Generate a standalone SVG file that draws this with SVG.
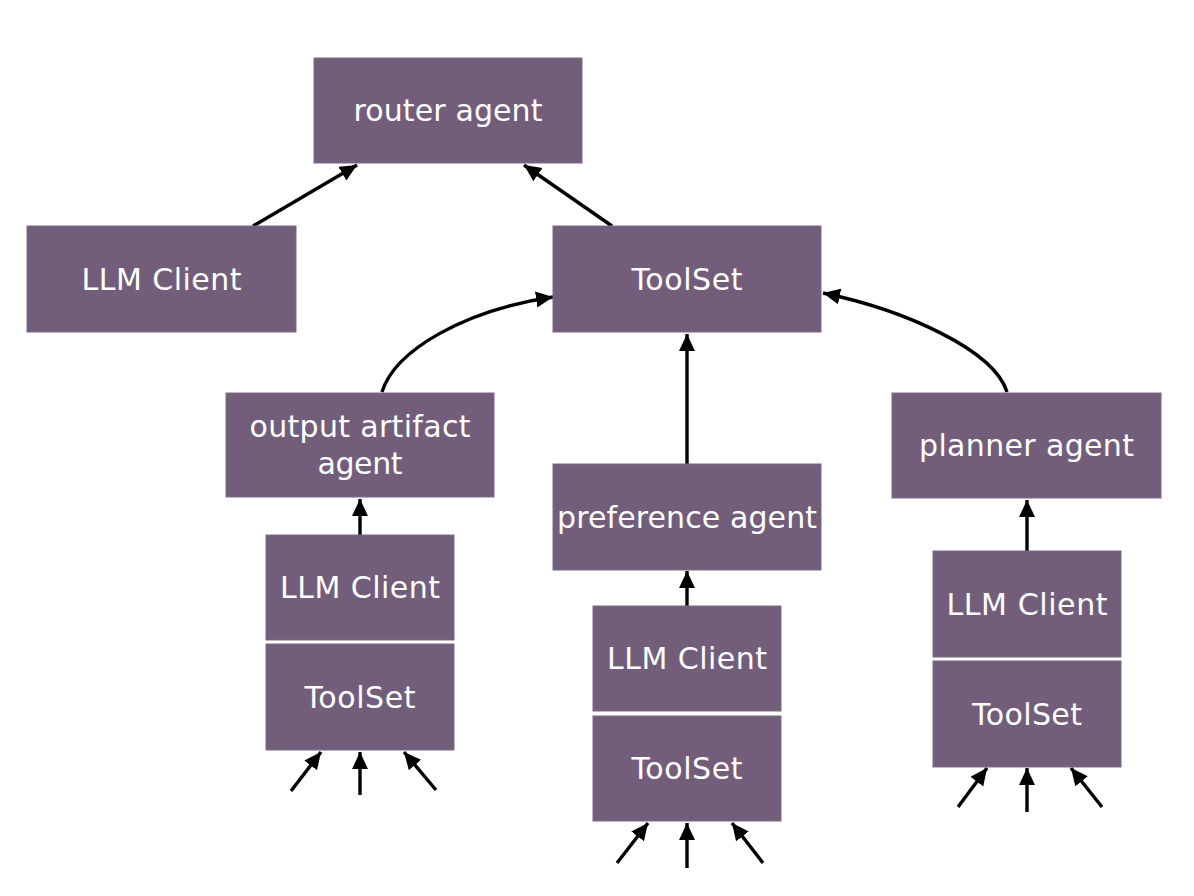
<svg xmlns="http://www.w3.org/2000/svg" width="1194" height="896" viewBox="0 0 1194 896">
<style>
.box{fill:#725e7a;stroke:#7d6a85;stroke-width:1}
.lbl{font-family:"DejaVu Sans","Liberation Sans",sans-serif;font-size:30px;fill:#ffffff;text-anchor:middle}
.edge{fill:none;stroke:#000;stroke-width:3.4;marker-end:url(#ah)}
</style>
<defs>
<marker id="ah" markerUnits="userSpaceOnUse" markerWidth="18" markerHeight="17" refX="17" refY="8" orient="auto">
<path d="M0,0 L17,8 L0,16 z" fill="#000"/>
</marker>
</defs>
<rect width="1194" height="896" fill="#fff"/>
<g id="edges">
<path class="edge" d="M253,226 L357,165"/>
<path class="edge" d="M612,226 L524,165"/>
<path class="edge" d="M382,392 C395,350 465,310 553,297"/>
<path class="edge" d="M1007,392 C994,350 905,310 823,293"/>
<path class="edge" d="M687,464 L687,334"/>
<path class="edge" d="M360,535 L360,499"/>
<path class="edge" d="M687,606 L687,571"/>
<path class="edge" d="M1027,551 L1027,500"/>
<path class="edge" d="M291,791 L321,752"/>
<path class="edge" d="M360,795 L360,752"/>
<path class="edge" d="M436,790 L404,752"/>
<path class="edge" d="M617,863 L648,823"/>
<path class="edge" d="M687,868 L687,823"/>
<path class="edge" d="M763,863 L732,823"/>
<path class="edge" d="M958,807 L987,768"/>
<path class="edge" d="M1027,812 L1027,768"/>
<path class="edge" d="M1102,807 L1071,768"/>
</g>
<g id="router-agent"><rect class="box" x="314" y="58" width="268" height="105"/><text class="lbl" x="448" y="121" textLength="189" lengthAdjust="spacing">router agent</text></g>
<g id="llm-client-top"><rect class="box" x="27" y="226" width="269" height="106"/><text class="lbl" x="161.5" y="290" textLength="160" lengthAdjust="spacing">LLM Client</text></g>
<g id="toolset-top"><rect class="box" x="553" y="226" width="268" height="106"/><text class="lbl" x="687" y="290" textLength="111" lengthAdjust="spacing">ToolSet</text></g>
<g id="output-artifact-agent"><rect class="box" x="226" y="393" width="268" height="104"/><text class="lbl" x="360" y="437" textLength="221" lengthAdjust="spacing">output artifact</text><text class="lbl" x="360" y="474" textLength="85" lengthAdjust="spacing">agent</text></g>
<g id="llm-client-output"><rect class="box" x="266" y="535" width="188" height="105"/><text class="lbl" x="360" y="598" textLength="160" lengthAdjust="spacing">LLM Client</text></g>
<g id="toolset-output"><rect class="box" x="266" y="644" width="188" height="106"/><text class="lbl" x="360" y="708" textLength="111" lengthAdjust="spacing">ToolSet</text></g>
<g id="preference-agent"><rect class="box" x="553" y="464" width="268" height="106"/><text class="lbl" x="687" y="528" textLength="260" lengthAdjust="spacing">preference agent</text></g>
<g id="llm-client-preference"><rect class="box" x="593" y="606" width="188" height="105"/><text class="lbl" x="687" y="669" textLength="160" lengthAdjust="spacing">LLM Client</text></g>
<g id="toolset-preference"><rect class="box" x="593" y="716" width="188" height="105"/><text class="lbl" x="687" y="779" textLength="111" lengthAdjust="spacing">ToolSet</text></g>
<g id="planner-agent"><rect class="box" x="892" y="393" width="269" height="105"/><text class="lbl" x="1026.5" y="456" textLength="215" lengthAdjust="spacing">planner agent</text></g>
<g id="llm-client-planner"><rect class="box" x="933" y="551" width="188" height="106"/><text class="lbl" x="1027" y="615" textLength="161" lengthAdjust="spacing">LLM Client</text></g>
<g id="toolset-planner"><rect class="box" x="933" y="661" width="188" height="106"/><text class="lbl" x="1027" y="725" textLength="110" lengthAdjust="spacing">ToolSet</text></g>
</svg>
